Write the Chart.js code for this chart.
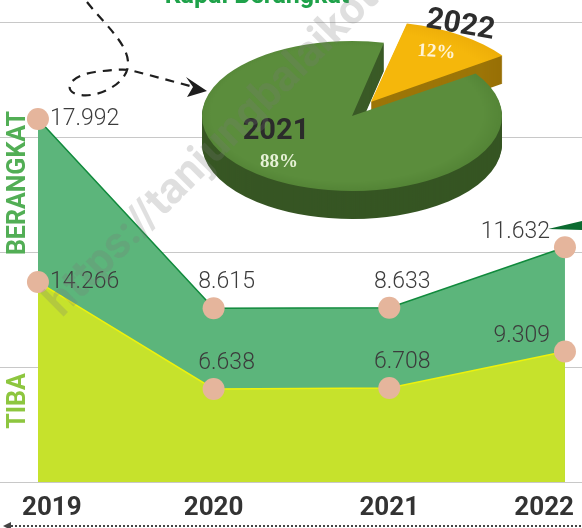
<!DOCTYPE html>
<html>
<head>
<meta charset="utf-8">
<script src="https://cdn.jsdelivr.net/npm/chart.js@4.4.1/dist/chart.umd.min.js"></script>
<style>
  body { margin: 0; background: #fff; }
  #wrap { position: relative; width: 582px; height: 528px; overflow: hidden; background: #fff; }
  #lineChart { position: absolute; left: 0; top: 0; }
  #pieBox { position: absolute; left: 152px; top: -84px; width: 400px; height: 480px;
            transform: scaleY(0.5); transform-origin: 200px 200px; pointer-events: none; }
  #overlay { position: absolute; left: 0; top: 0; pointer-events: none; }
</style>
</head>
<body>
<div id="wrap">
  <canvas id="lineChart" width="582" height="528"></canvas>
  <div id="pieBox"><canvas id="pieChart" width="400" height="480"></canvas></div>
  <svg id="overlay" width="582" height="528" xmlns="http://www.w3.org/2000/svg">
    <text x="257" y="3" text-anchor="middle" font-family="Roboto" font-weight="bold" font-size="25" fill="#1fa24a">Kapal Berangkat</text>

    <!-- dashed arrow top left -->
    <path d="M87,2 C105,25 130,45 128,66 C126,85 95,100 76,94 C64,90 68,76 95,72 C110,70 122,69 130,70 L190,86"
          fill="none" stroke="#1e1e1e" stroke-width="2.2" stroke-dasharray="9 7"/>
    <polygon points="207,91 186,77 193,87 187,97" fill="#1e1e1e"/>

    <!-- pie labels -->
    <text transform="translate(459,33) rotate(10)" text-anchor="middle" font-family="Roboto" font-weight="bold" font-size="30" fill="#2d2d2d">2022</text>
    <text transform="translate(436,57) rotate(4)" text-anchor="middle" font-family="Liberation Serif" font-weight="bold" font-size="19" fill="#fff4d6">12%</text>
    <text x="276" y="139" text-anchor="middle" font-family="Roboto" font-weight="bold" font-size="29" fill="#2b2b2b">2021</text>
    <text x="279" y="167" text-anchor="middle" font-family="Liberation Serif" font-weight="bold" font-size="19" fill="#e6f1d6">88%</text>

    <!-- axis titles -->
    <text transform="translate(25,183) rotate(-90)" text-anchor="middle" font-family="Roboto" font-weight="bold" font-size="25" fill="#52ae55">BERANGKAT</text>
    <text transform="translate(25,401) rotate(-90)" text-anchor="middle" font-family="Roboto" font-weight="bold" font-size="25" fill="#8dc63f">TIBA</text>

    <!-- small wedge at right -->
    <polygon points="548,229 582,221 582,230" fill="#0b6b30"/>

    <!-- dotted timeline -->
    <line x1="11" y1="526" x2="582" y2="526" stroke="#444" stroke-width="2" stroke-dasharray="2 2"/>
    <polygon points="3,526 11,522 11,530" fill="#444"/>

    <!-- watermark -->
    <text transform="translate(62,318) rotate(-45)" font-family="Roboto" font-weight="bold" font-size="44" fill="rgba(120,120,120,0.24)">https://tanjungbalaikota.go.id</text>
  </svg>
</div>

<script>
// data
var years = [2019, 2020, 2021, 2022];
var berangkat = [17992, 8615, 8633, 11632];
var tiba = [14266, 6638, 6708, 9309];
var pieYears = ["2021", "2022"];
var pieShares = [88, 12];

function fmt(v) {
    return String(v).replace(/\B(?=(\d{3})+(?!\d))/g, ".");
}

var valueLabels = {
    id: "valueLabels",
    afterDatasetsDraw: function (chart) {
        var ctx = chart.ctx;
        ctx.save();
        ctx.font = "300 23px Roboto";
        ctx.fillStyle = "#3c3c3c";
        ctx.textBaseline = "middle";
        chart.data.datasets.forEach(function (ds, di) {
            var meta = chart.getDatasetMeta(di);
            var last = meta.data.length - 1;
            meta.data.forEach(function (pt, i) {
                var txt = fmt(ds.data[i]);
                if (i === 0) {
                    ctx.textAlign = "left";
                    ctx.fillText(txt, pt.x + 12, pt.y);
                } else if (i === last) {
                    ctx.textAlign = "right";
                    ctx.fillText(txt, pt.x - 15, pt.y - 15);
                } else {
                    ctx.textAlign = "center";
                    ctx.fillText(txt, pt.x + 13, pt.y - 26);
                }
            });
        });
        ctx.restore();
    }
};

var yearLabels = {
    id: "yearLabels",
    afterDraw: function (chart) {
        var ctx = chart.ctx;
        var xs = chart.scales.x;
        ctx.save();
        ctx.font = "bold 26px Roboto";
        ctx.fillStyle = "#333";
        ctx.textAlign = "center";
        ctx.textBaseline = "middle";
        years.forEach(function (yr) {
            var w = ctx.measureText(String(yr)).width;
            var x = xs.getPixelForValue(yr);
            x = Math.max(22 + w / 2, Math.min(574 - w / 2, x));
            ctx.fillText(String(yr), x, 508);
        });
        ctx.restore();
    }
};

new Chart(document.getElementById("lineChart"), {
    type: "line",
    data: {
        labels: years,
        datasets: [
            {
                label: "TIBA",
                data: tiba,
                yAxisID: "y2",
                borderColor: "#eef20c",
                borderWidth: 1.5,
                backgroundColor: "#c6e22c",
                fill: "origin",
                tension: 0,
                pointRadius: 11,
                pointBorderWidth: 0,
                pointBackgroundColor: "#e5b59c"
            },
            {
                label: "BERANGKAT",
                data: berangkat,
                yAxisID: "y",
                borderColor: "#108a3c",
                borderWidth: 1.5,
                backgroundColor: "#5cb57b",
                fill: "origin",
                tension: 0,
                pointRadius: 11,
                pointBorderWidth: 0,
                pointBackgroundColor: "#e5b59c"
            }
        ]
    },
    options: {
        responsive: false,
        animation: false,
        events: [],
        layout: { autoPadding: false, padding: { top: 22, bottom: 46, left: 0, right: 0 } },
        plugins: { legend: { display: false }, tooltip: { enabled: false } },
        scales: {
            x: { type: "linear", display: false, min: 2018.784, max: 2022.097 },
            y: {
                min: 0,
                max: 22800,
                ticks: { display: false, count: 5 },
                grid: { color: "#c8c8c8", drawTicks: false },
                border: { display: false }
            },
            y2: { min: 0, max: 32800, display: false }
        }
    },
    plugins: [valueLabels, yearLabels]
});

// side of the 3d pie: the same arcs drawn darker, shifted down
var pieSide = {
    id: "pieSide",
    beforeDatasetsDraw: function (chart) {
        var ctx = chart.ctx;
        var meta = chart.getDatasetMeta(0);
        ctx.save();
        ctx.filter = "brightness(0.64)";
        for (var d = 56; d > 0; d -= 2) {
            ctx.save();
            ctx.translate(0, d);
            meta.data.forEach(function (a) { a.draw(ctx); });
            ctx.restore();
        }
        ctx.restore();
    }
};

var pieTop = ["#5b8d3c", "#f5b70b"];
var pieRim = ["#4b7a2f", "#eaa908"];

function pieFill(c) {
    var a = c.chart.chartArea;
    if (!a) return pieTop[c.dataIndex];
    var cx = (a.left + a.right) / 2, cy = (a.top + a.bottom) / 2;
    var g = c.chart.ctx.createRadialGradient(cx - 20, cy - 20, 20, cx, cy, 175);
    g.addColorStop(0, pieTop[c.dataIndex]);
    g.addColorStop(0.75, pieTop[c.dataIndex]);
    g.addColorStop(1, pieRim[c.dataIndex]);
    return g;
}

new Chart(document.getElementById("pieChart"), {
    type: "pie",
    data: {
        labels: pieYears,
        datasets: [{
            data: pieShares,
            backgroundColor: pieFill,
            borderWidth: 0,
            offset: [0, 136]
        }]
    },
    options: {
        responsive: false,
        animation: false,
        events: [],
        rotation: 55.5,
        radius: 150,
        layout: { padding: { bottom: 80 } },
        plugins: { legend: { display: false }, tooltip: { enabled: false } }
    },
    plugins: [pieSide]
});
</script>
</body>
</html>
